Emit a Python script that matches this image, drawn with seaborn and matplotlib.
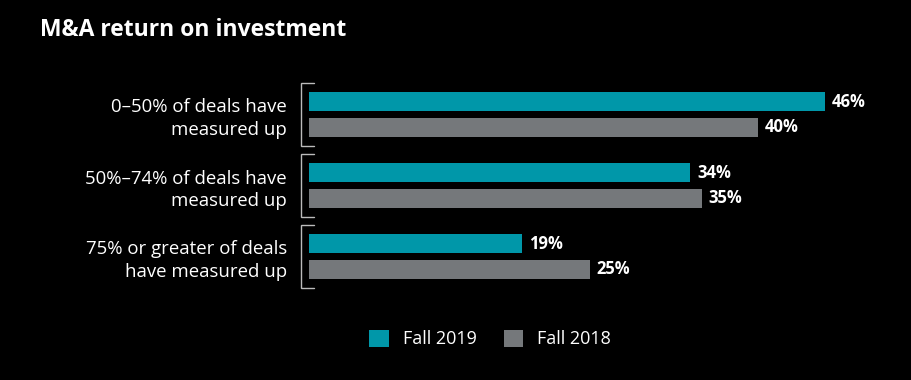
import matplotlib
matplotlib.use('Agg')
from matplotlib import pyplot as plt
from matplotlib.patches import Patch
import seaborn as sns
import pandas as pd

categories = ["0–50% of deals have\nmeasured up",
              "50%–74% of deals have\nmeasured up",
              "75% or greater of deals\nhave measured up"]
fall_2019 = [46, 34, 19]
fall_2018 = [40, 35, 25]
seasons = ["Fall 2019", "Fall 2018"]
colors = ["#0097a9", "#75787b"]

df = pd.DataFrame({
    "category": categories * 2,
    "value": fall_2019 + fall_2018,
    "season": [seasons[0]] * 3 + [seasons[1]] * 3,
})

sns.set_theme(style="dark")
plt.rcParams['font.family'] = ['Open Sans', 'DejaVu Sans']

fig = plt.figure(figsize=(9.11, 3.8), dpi=100, facecolor="black")
ax = fig.add_axes([309 / 911, 1 - 292 / 380, 561 / 911, 213 / 380])
ax.set_facecolor("black")

sns.barplot(data=df, y="category", x="value", hue="season", orient="h",
            palette=colors, saturation=1, linewidth=0, width=0.73, gap=0.27,
            legend=False, ax=ax)

ax.set_xlim(0, 50)
ax.set_ylim(2.5, -0.5)
ax.set_xlabel("")
ax.set_ylabel("")
ax.set_xticks([])
ax.tick_params(axis="y", length=0, pad=16, labelsize=13.4, labelcolor="white")
for lbl in ax.get_yticklabels():
    lbl.set_horizontalalignment("right")
    lbl.set_linespacing(1.3)
for s in ax.spines.values():
    s.set_visible(False)
ax.grid(False)

for cont in ax.containers:
    ax.bar_label(cont, fmt="%d%%", padding=5, color="white",
                 fontsize=12, fontweight="bold")

# brackets next to each group
px = 50 / 561
for i in range(len(categories)):
    top, bot = i - 0.44, i + 0.445
    xv, xt = -8 * px, 5 * px
    ax.plot([xt, xv, xv, xt], [top, top, bot, bot], color="#bbbbbb",
            lw=1, clip_on=False, solid_joinstyle="miter")

fig.text(40 / 911, 1 - 30 / 380, "M&A return on investment", color="white",
         fontsize=16.5, fontweight="bold", va="center", ha="left")

handles = [Patch(facecolor=c, edgecolor="none", label=s) for c, s in zip(colors, seasons)]
fig.legend(handles=handles, loc="center", bbox_to_anchor=(490 / 911, 1 - 339 / 380),
           ncol=2, frameon=False, fontsize=13, labelcolor="white",
           handlelength=1.1, handleheight=1.1, handletextpad=0.75, columnspacing=1.5)

fig.savefig("out.png", dpi=100, facecolor="black")
